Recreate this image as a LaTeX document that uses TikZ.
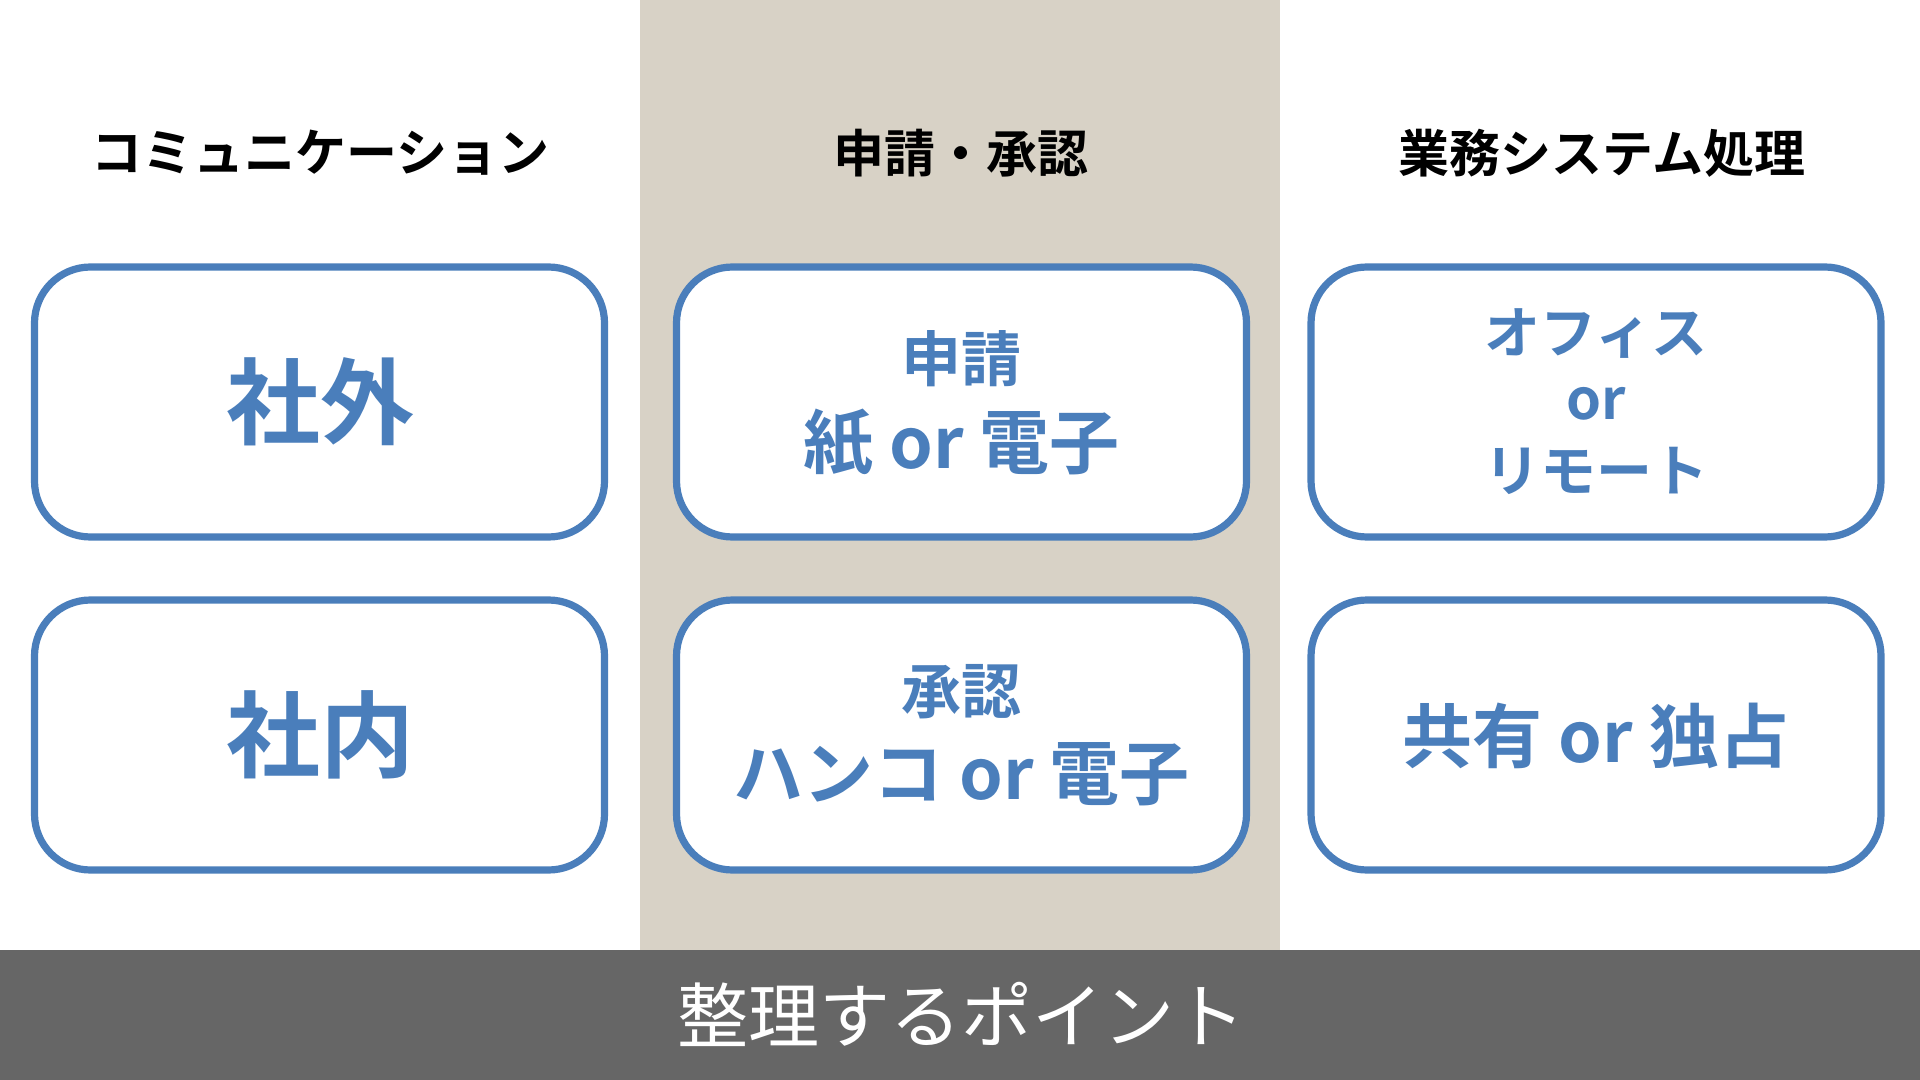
\documentclass[tikz,border=0pt]{standalone}
\usepackage{fontspec}
\newfontfamily\jpb{Noto Sans CJK JP Bold}
\newfontfamily\jpr{Noto Sans CJK JP}
\definecolor{beige}{HTML}{D8D2C6}
\definecolor{barg}{HTML}{666666}
\definecolor{bl}{HTML}{4A7EBB}
\tikzset{
  cell/.style={draw=bl, line width=3.6pt, rounded corners=28pt, fill=white,
    minimum width=285pt, minimum height=135pt, inner sep=0pt},
  hdr/.style={inner sep=0pt, text=black, font=\jpb\fontsize{25.5}{30}\selectfont},
  big/.style={inner sep=0pt, text=bl, font=\jpb\fontsize{47}{50}\selectfont},
  mid/.style={inner sep=0pt, text=bl, font=\jpb\fontsize{35}{40}\selectfont},
  sml/.style={inner sep=0pt, text=bl, font=\jpb\fontsize{30}{34}\selectfont},
  sms/.style={inner sep=0pt, text=bl, font=\jpb\fontsize{28}{32}\selectfont},
  foot/.style={inner sep=0pt, text=white, font=\jpr\fontsize{35.5}{40}\selectfont}
}
\begin{document}
\begin{tikzpicture}[x=0.5pt,y=-0.5pt]
\useasboundingbox (0,0) rectangle (1920,1080);
\fill[white] (0,0) rectangle (1920,1080);
\fill[beige] (640,0) rectangle (1280,950);
\fill[barg] (0,950) rectangle (1920,1080);
% headers
\node[hdr] (h1) at (320,153) {コミュニケーション};
\node[hdr] (h2) at (961,153) {申請・承認};
\node[hdr] (h3) at (1602,153) {業務システム処理};
% boxes
\node[cell] (b11) at (319.5,402) {};
\node[cell] (b21) at (319.5,735) {};
\node[cell] (b12) at (961.5,402) {};
\node[cell] (b22) at (961.5,735) {};
\node[cell] (b13) at (1596,402) {};
\node[cell] (b23) at (1596,735) {};
% box texts
\node[big] (t11) at (320,402) {社外};
\node[big] (t21) at (320,735) {社内};
\node[sml] (t12a) at (961.5,359) {申請};
\node[mid] (t12b) at (961.5,443) {紙 or 電子};
\node[sml] (t22a) at (961.5,692) {承認};
\node[mid] (t22b) at (961.5,774) {ハンコ or 電子};
\node[sms] (t13a) at (1596,334) {オフィス};
\node[sms] (t13b) at (1596,404) {or};
\node[sms] (t13c) at (1596,471) {リモート};
\node[mid] (t23) at (1596,736) {共有 or 独占};
% footer
\node[foot] (f) at (961,1014) {整理するポイント};
\end{tikzpicture}
\end{document}
